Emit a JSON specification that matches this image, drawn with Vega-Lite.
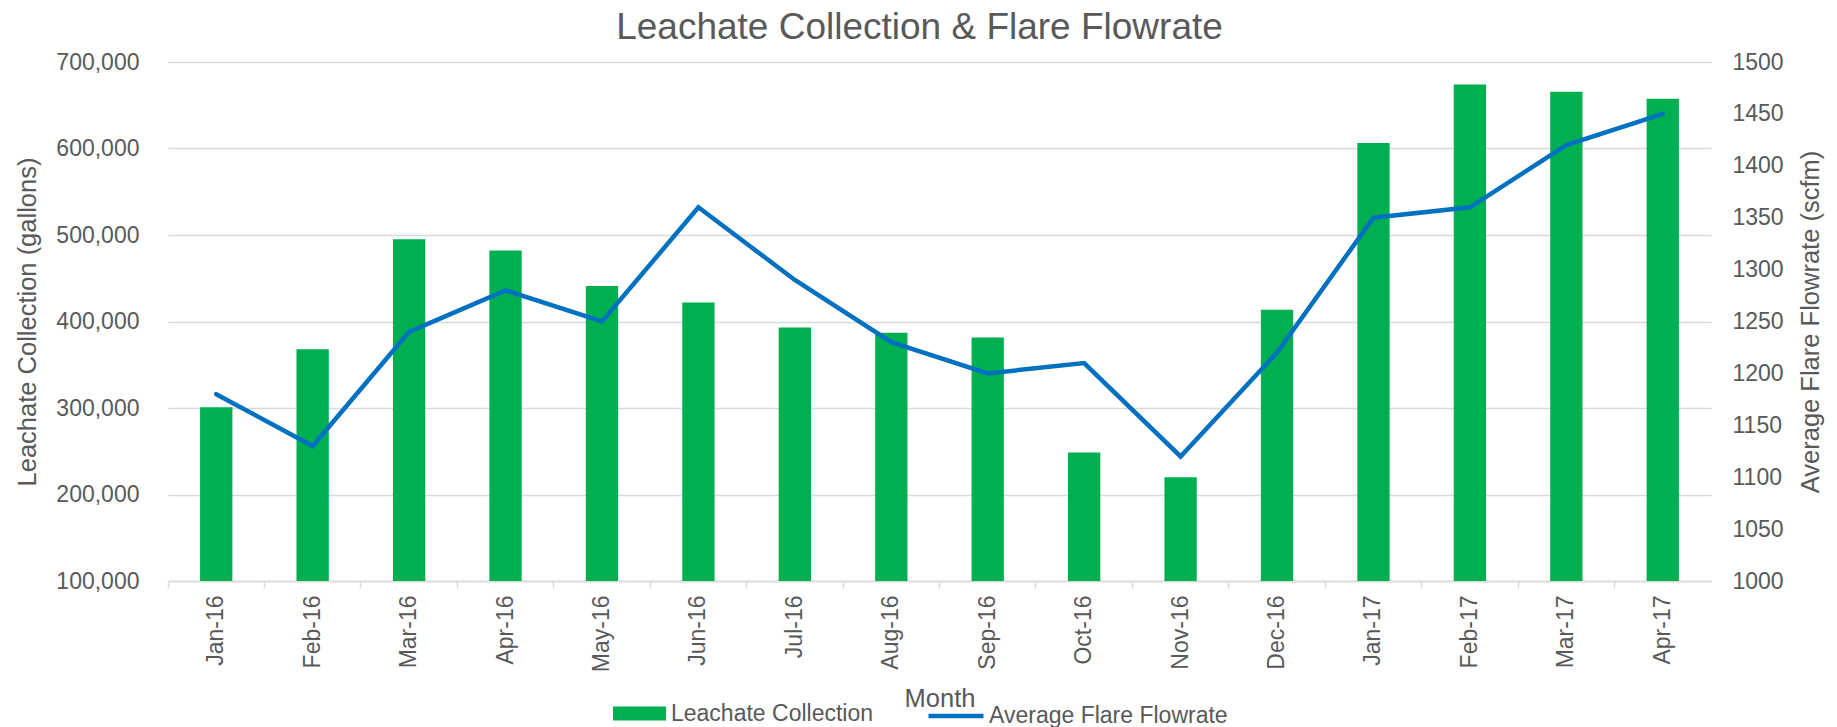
{
  "$schema": "https://vega.github.io/schema/vega-lite/v6.json",
  "width": 1543,
  "height": 519,
  "autosize": {"type": "none"},
  "padding": {"left": 168, "top": 62, "right": 126, "bottom": 146},
  "background": "white",
  "config": {"font": "Liberation Sans", "view": {"stroke": null}},
  "title": {
    "text": "Leachate Collection & Flare Flowrate",
    "fontSize": 37,
    "fontWeight": "normal",
    "color": "#595959",
    "anchor": "middle",
    "dx": -20,
    "offset": 4
  },
  "data": {
    "values": [
      {"month": "Jan-16", "leachate": 301000, "flare": 1180},
      {"month": "Feb-16", "leachate": 368000, "flare": 1130},
      {"month": "Mar-16", "leachate": 495000, "flare": 1240},
      {"month": "Apr-16", "leachate": 482000, "flare": 1280},
      {"month": "May-16", "leachate": 441000, "flare": 1250},
      {"month": "Jun-16", "leachate": 422000, "flare": 1360},
      {"month": "Jul-16", "leachate": 393000, "flare": 1290},
      {"month": "Aug-16", "leachate": 387000, "flare": 1230},
      {"month": "Sep-16", "leachate": 381500, "flare": 1200},
      {"month": "Oct-16", "leachate": 248500, "flare": 1210},
      {"month": "Nov-16", "leachate": 220000, "flare": 1120},
      {"month": "Dec-16", "leachate": 413500, "flare": 1220},
      {"month": "Jan-17", "leachate": 606500, "flare": 1350},
      {"month": "Feb-17", "leachate": 674000, "flare": 1360},
      {"month": "Mar-17", "leachate": 665500, "flare": 1420},
      {"month": "Apr-17", "leachate": 657500, "flare": 1450}
    ]
  },
  "encoding": {
    "x": {
      "field": "month",
      "type": "ordinal",
      "sort": null,
      "scale": {"paddingInner": 0, "paddingOuter": 0},
      "axis": {
        "title": "Month",
        "titleFontSize": 25.5,
        "titleFontWeight": "normal",
        "titleColor": "#595959",
        "titlePadding": 15,
        "labelAngle": -90,
        "labelFontSize": 23,
        "labelColor": "#595959",
        "labelPadding": 7,
        "tickSize": 7,
        "tickColor": "#d9d9d9",
        "tickWidth": 1.5,
        "domainColor": "#d9d9d9",
        "domainWidth": 1.5,
        "bandPosition": 0,
        "grid": false
      }
    }
  },
  "layer": [
    {
      "mark": {"type": "bar", "width": {"band": 0.335}, "clip": true},
      "encoding": {
        "y": {
          "field": "leachate",
          "type": "quantitative",
          "scale": {"domain": [100000, 700000], "zero": false, "nice": false},
          "axis": {
            "title": "Leachate Collection (gallons)",
            "values": [100000, 200000, 300000, 400000, 500000, 600000, 700000],
            "format": ",.0f",
            "labelFontSize": 23,
            "labelColor": "#595959",
            "labelPadding": 29,
            "ticks": false,
            "domain": false,
            "grid": true,
            "gridColor": "#d9d9d9",
            "gridWidth": 1.5,
            "titleFontSize": 25.5,
            "titleFontWeight": "normal",
            "titleColor": "#595959",
            "titlePadding": 15
          }
        },
        "y2": {"datum": 100000},
        "color": {
          "datum": "Leachate Collection",
          "type": "nominal",
          "scale": {"range": ["#00B050"]},
          "legend": {
            "orient": "none",
            "legendX": 445,
            "legendY": 625,
            "direction": "horizontal",
            "title": null,
            "padding": 0,
            "symbolType": "M-1,-0.26L1,-0.26L1,0.26L-1,0.26Z",
            "symbolSize": 2809,
            "symbolStrokeWidth": 0,
            "labelFontSize": 23,
            "labelColor": "#595959",
            "labelOffset": 5,
            "labelLimit": 0
          }
        }
      }
    },
    {
      "mark": {"type": "line", "strokeWidth": 4.5, "strokeCap": "round"},
      "encoding": {
        "y": {
          "field": "flare",
          "type": "quantitative",
          "scale": {"domain": [1000, 1500], "zero": false, "nice": false},
          "axis": {
            "orient": "right",
            "title": "Average Flare Flowrate (scfm)",
            "values": [1000, 1050, 1100, 1150, 1200, 1250, 1300, 1350, 1400, 1450, 1500],
            "format": ".0f",
            "labelFontSize": 23,
            "labelColor": "#595959",
            "labelPadding": 21,
            "ticks": false,
            "domain": false,
            "grid": false,
            "titleFontSize": 25.5,
            "titleFontWeight": "normal",
            "titleColor": "#595959",
            "titlePadding": 40,
            "titleAngle": 270
          }
        },
        "stroke": {
          "datum": "Average Flare Flowrate",
          "type": "nominal",
          "scale": {"range": ["#0070C0"]},
          "legend": {
            "orient": "none",
            "legendX": 758,
            "legendY": 624,
            "direction": "horizontal",
            "title": null,
            "padding": 0,
            "symbolType": "stroke",
            "symbolSize": 3025,
            "symbolStrokeWidth": 4.5,
            "labelFontSize": 23,
            "labelColor": "#595959",
            "labelOffset": 3,
            "labelLimit": 0
          }
        }
      }
    }
  ],
  "resolve": {"scale": {"y": "independent", "color": "independent", "stroke": "independent"}}
}
